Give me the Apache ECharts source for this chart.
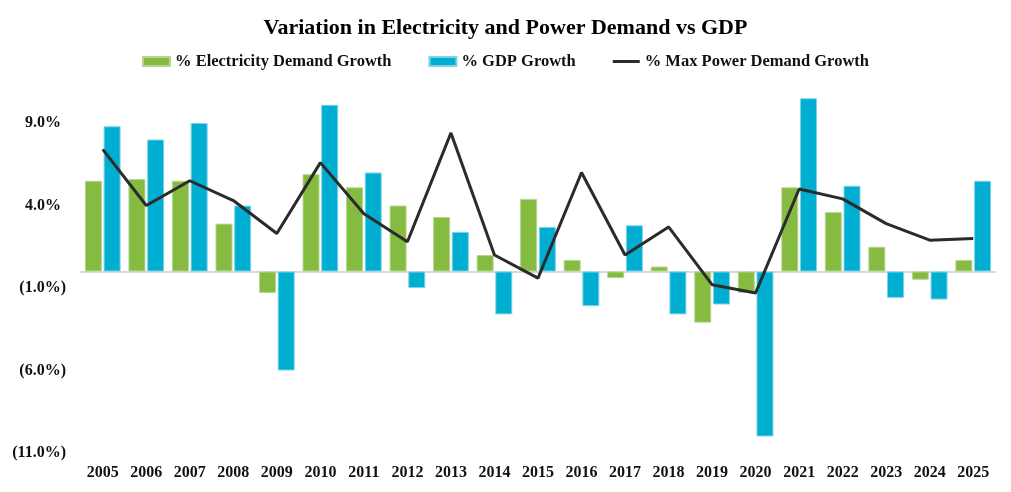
<!DOCTYPE html>
<html>
<head>
<meta charset="utf-8">
<script src="https://cdn.jsdelivr.net/npm/echarts@6/dist/echarts.min.js"></script>
<style>
  html, body { margin: 0; padding: 0; background: #fff; }
  #chart { width: 1011px; height: 492px; }
</style>
</head>
<body>
<div id="chart"></div>
<script>
// years on the x axis
var years = ['2005', '2006', '2007', '2008', '2009', '2010', '2011', '2012', '2013', '2014', '2015',
	'2016', '2017', '2018', '2019', '2020', '2021', '2022', '2023', '2024', '2025'];
// % electricity demand growth (green bars)
var elecDemand = [5.5, 5.6, 5.5, 2.9, -1.3, 5.9, 5.1, 4.0, 3.3, 1.0, 4.4,
	0.7, -0.4, 0.3, -3.1, -1.3, 5.1, 3.6, 1.5, -0.5, 0.7];
// % GDP growth (blue bars)
var gdpGrowth = [8.8, 8.0, 9.0, 4.0, -6.0, 10.1, 6.0, -1.0, 2.4, -2.6, 2.7,
	-2.1, 2.8, -2.6, -2.0, -10.0, 10.5, 5.2, -1.6, -1.7, 5.5];
// % max power demand growth (line)
var maxPower = [7.4, 4.0, 5.5, 4.3, 2.3, 6.6, 3.5, 1.8, 8.4, 1.0, -0.4,
	6.0, 1.0, 2.7, -0.8, -1.3, 5.0, 4.4, 2.9, 1.9, 2.0];

var serif = '"Liberation Serif", "Times New Roman", serif';

var myChart = echarts.init(document.getElementById('chart'));
var option = {
	backgroundColor: '#fff',
	animation: false,
	title: {
		text: 'Variation in Electricity and Power Demand vs GDP',
		left: 'center',
		top: 12,
		textStyle: {
			fontFamily: serif,
			fontSize: 22,
			fontWeight: 'bold',
			color: '#000'
		}
	},
	legend: {
		top: 48,
		left: 'center',
		itemGap: 37,
		itemWidth: 27,
		itemHeight: 9,
		textStyle: {
			fontFamily: serif,
			fontSize: 16.5,
			fontWeight: 'bold',
			color: '#111'
		},
		data: [
			{ name: '% Electricity Demand Growth', icon: 'rect' },
			{ name: '% GDP Growth', icon: 'rect' },
			// plain line, no dot in the middle
			{ name: '% Max Power Demand Growth', icon: 'path://M0,0 L27,0 L27,3 L0,3 Z' }
		]
	},
	grid: {
		left: 81,
		right: 16,
		top: 90,
		bottom: 39
	},
	xAxis: [{
		type: 'category',
		data: years,
		axisLine: { show: false, onZero: false },
		axisTick: { show: false },
		axisLabel: {
			margin: 12,
			fontFamily: serif,
			fontSize: 16,
			fontWeight: 'bold',
			color: '#111'
		}
	}, {
		// zero line only
		type: 'category',
		data: years,
		position: 'bottom',
		axisLine: { show: true, onZero: true, lineStyle: { color: '#d9d9d9', width: 2 } },
		axisTick: { show: false },
		axisLabel: { show: false }
	}],
	yAxis: {
		type: 'value',
		min: -11,
		max: 11,
		interval: 5,
		splitLine: { show: false },
		axisLine: { show: false },
		axisTick: { show: false },
		axisLabel: {
			margin: 15,
			showMaxLabel: false,
			formatter: function(v) {
				if (v > 10) {
					return '';
				}
				if (v < 0) {
					return '{n|(' + Math.abs(v).toFixed(1) + '%)}';
				}
				return '{p|' + v.toFixed(1) + '%}';
			},
			rich: {
				n: {
					fontFamily: serif,
					fontSize: 16,
					fontWeight: 'bold',
					color: '#111'
				},
				p: {
					fontFamily: serif,
					fontSize: 16,
					fontWeight: 'bold',
					color: '#111',
					padding: [0, 5, 0, 0]
				}
			}
		}
	},
	series: [{
		name: '% Electricity Demand Growth',
		type: 'bar',
		data: elecDemand,
		barCategoryGap: '18%',
		barGap: '10%',
		itemStyle: {
			color: '#86bb41',
			borderColor: '#b5d68f',
			borderWidth: 1
		}
	}, {
		name: '% GDP Growth',
		type: 'bar',
		data: gdpGrowth,
		barCategoryGap: '18%',
		barGap: '10%',
		itemStyle: {
			color: '#00aed1',
			borderColor: '#7fd3e6',
			borderWidth: 1
		}
	}, {
		name: '% Max Power Demand Growth',
		type: 'line',
		data: maxPower,
		symbol: 'none',
		z: 5,
		lineStyle: {
			color: '#2b2b2b',
			width: 3
		},
		itemStyle: {
			color: '#2b2b2b'
		}
	}]
};
myChart.setOption(option);
</script>
</body>
</html>
